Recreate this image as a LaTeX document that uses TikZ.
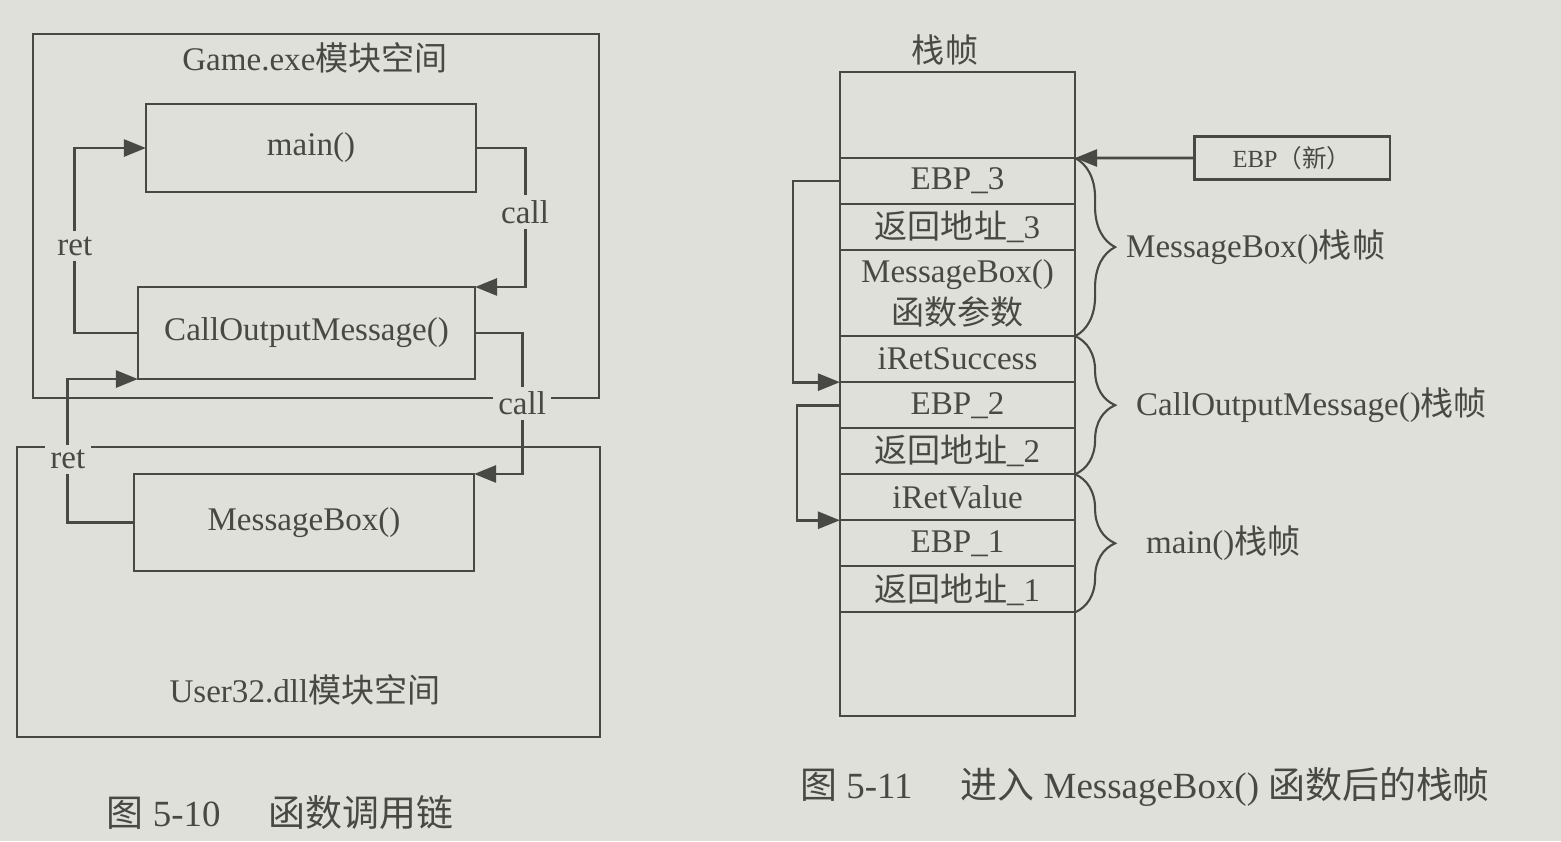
\documentclass[tikz,border=0pt]{standalone}
\usepackage{fontspec}
\setmainfont{Liberation Serif}
\newfontfamily\cjk{Noto Sans CJK SC}
\usetikzlibrary{arrows.meta,positioning,decorations.pathreplacing}
\definecolor{paper}{RGB}{224,224,218}
\definecolor{ink}{RGB}{72,72,68}
\newcommand{\zh}[1]{{\cjk #1}}

\begin{document}
\begin{tikzpicture}[x=0.01cm,y=-0.01cm,
    font=\fontsize{9.4}{11}\selectfont,text=ink,
    fbox/.style={draw=ink,line width=0.6pt,inner sep=0pt,outer sep=0pt},
    cell/.style={fbox,minimum width=2.35cm,minimum height=0.46cm},
    flow/.style={draw=ink,line width=0.8pt,-{Triangle[length=2.2mm,width=1.7mm]}},
    tag/.style={fill=paper,inner sep=1.5pt},
    frame/.style={draw=ink,line width=0.6pt,decorate,decoration={brace,amplitude=0.4cm}}]

% Paper
\fill[paper] (0,0) rectangle (1561,841);

% ---- Left: call chain ----
% Module spaces
\node[fbox,minimum width=5.66cm,minimum height=3.64cm] (game) at (316,216) {};
\node (gametitle) at (315,58) {Game.exe\zh{模块空间}};
\node[fbox,minimum width=5.83cm,minimum height=2.90cm] (user) at (308.5,592) {};
\node (usertitle) at (305,690) {User32.dll\zh{模块空间}};

% Functions
\node[fbox,minimum width=3.30cm,minimum height=0.88cm] (main) at (311,148) {main()};
\node[fbox,minimum width=3.37cm,minimum height=0.92cm] (com) at (306.5,333) {CallOutputMessage()};
\node[fbox,minimum width=3.40cm,minimum height=0.97cm] (mbox) at (304,522.5) {MessageBox()};

% call / ret
\draw[flow] (main.east) -- ++(49,0) |- node[tag,pos=0.23] (call1) {call} (com.north east);
\draw[flow] (com.west) -- ++(-63,0) |- node[tag,pos=0.235] (ret1) {ret} (main.west);
\draw[flow] (com.east) -- ++(47,0) |- node[tag,pos=0.25] (call2) {call} (mbox.north east);
\draw[flow] (mbox.west) -- ++(-66,0) |- node[tag,pos=0.22] (ret2) {ret} (com.south west);

% Caption
\node[font=\fontsize{10.5}{12}\selectfont] (cap1) at (280,812) {\zh{图} 5-10\hspace{1.3em}\zh{函数调用链}};

% ---- Right: stack frame ----
\node (sttitle) at (945,50) {\zh{栈帧}};
\node[cell,minimum height=0.86cm] (stop) at (957.5,115) {};
\node[cell,below=0pt of stop] (ebp3) {EBP\_3};
\node[cell,below=0pt of ebp3] (ra3) {\zh{返回地址}\_3};
\node[cell,minimum height=0.86cm,below=0pt of ra3,align=center] (mbarg) {MessageBox()\\[1pt]\zh{函数参数}};
\node[cell,below=0pt of mbarg] (iretsucc) {iRetSuccess};
\node[cell,below=0pt of iretsucc] (ebp2) {EBP\_2};
\node[cell,below=0pt of ebp2] (ra2) {\zh{返回地址}\_2};
\node[cell,below=0pt of ra2] (iretval) {iRetValue};
\node[cell,below=0pt of iretval] (ebp1) {EBP\_1};
\node[cell,below=0pt of ebp1] (ra1) {\zh{返回地址}\_1};
\node[cell,minimum height=1.04cm,below=0pt of ra1] (sbot) {};

% New EBP
\node[fbox,minimum width=1.95cm,minimum height=0.43cm,font=\fontsize{7}{8}\selectfont] (ebpnew) at (1292,158) {EBP\zh{（新）}};
\draw[flow] (ebpnew.west) -- (ebp3.north east);

% Saved EBP links
\draw[flow] (ebp3.west) -- ++(-47,0) |- (ebp2.north west);
\draw[flow] (ebp2.west) -- ++(-43,0) |- (ebp1.north west);

% Frames
\draw[frame] (ebp3.north east) -- (mbarg.south east)
    node[midway,right=0.5cm,inner sep=0pt] (fmb) {MessageBox()\zh{栈帧}};
\draw[frame] (iretsucc.north east) -- (ra2.south east)
    node[midway,right=0.6cm,inner sep=0pt] (fcom) {CallOutputMessage()\zh{栈帧}};
\draw[frame] (iretval.north east) -- (ra1.south east)
    node[midway,right=0.7cm,inner sep=0pt] (fmain) {main()\zh{栈帧}};

% Caption
\node[font=\fontsize{10.5}{12}\selectfont] (cap2) at (1145,787) {\zh{图} 5-11\hspace{1.3em}\zh{进入} MessageBox() \zh{函数后的栈帧}};

\end{tikzpicture}
\end{document}
